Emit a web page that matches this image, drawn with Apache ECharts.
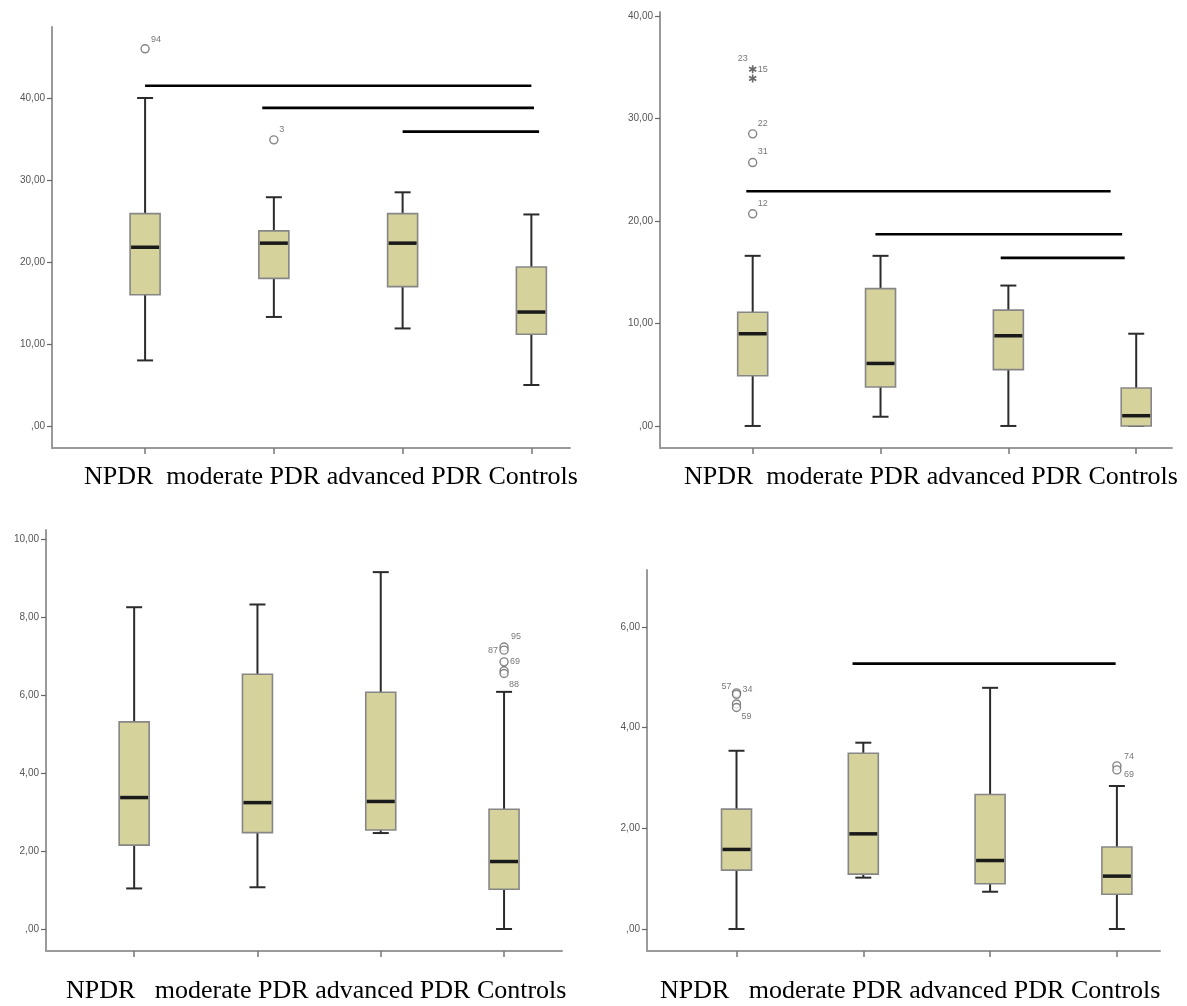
<!DOCTYPE html>
<html>
<head>
<meta charset="utf-8">
<script src="https://cdn.jsdelivr.net/npm/echarts@6/dist/echarts.min.js"></script>
<style>
  html, body { margin: 0; padding: 0; background: #ffffff; }
  #chart { width: 1187px; height: 1006px; }
</style>
</head>
<body>
<div id="chart"></div>
<script>
// ---------------- DATA ----------------
const categories = ['NPDR', 'moderate PDR', 'advanced PDR', 'Controls'];

// box stats per category: [lower whisker, Q1, median, Q3, upper whisker]
const panel1Boxes = [[8.0, 16.0, 21.8, 25.9, 40.0], [13.3, 18.0, 22.3, 23.8, 27.9], [11.9, 17.0, 22.3, 25.9, 28.5], [5.0, 11.2, 13.9, 19.4, 25.8]];
const panel2Boxes = [[0, 4.9, 9.0, 11.1, 16.6], [0.9, 3.8, 6.1, 13.4, 16.6], [0, 5.5, 8.8, 11.3, 13.7], [0, 0, 1.0, 3.7, 9.0]];
const panel3Boxes = [[1.04, 2.15, 3.37, 5.31, 8.25], [1.07, 2.47, 3.24, 6.53, 8.32], [2.46, 2.54, 3.27, 6.07, 9.15], [0, 1.02, 1.73, 3.07, 6.08]];
const panel4Boxes = [[0, 1.17, 1.58, 2.38, 3.54], [1.02, 1.09, 1.89, 3.49, 3.70], [0.74, 0.90, 1.36, 2.67, 4.79], [0, 0.69, 1.05, 1.63, 2.84]];

// outliers: [category index, value, case label]
const panel1Outliers = [[0, 46.0, '94'], [1, 34.9, '3']];
const panel2Outliers = [[0, 20.7, '12'], [0, 25.7, '31'], [0, 28.5, '22']];
const panel2Extremes = [[0, 34.8, '15'], [0, 33.9, '23']];
const panel3Outliers = [[3, 7.23, '95'], [3, 7.15, '87'], [3, 6.85, '69'], [3, 6.62, ''], [3, 6.55, '88']];
const panel4Outliers = [[0, 4.69, '34'], [0, 4.66, '57'], [0, 4.47, ''], [0, 4.40, '59'], [3, 3.24, '74'], [3, 3.16, '69']];

// significance bars: [from (category position), to (category position), value]
const panel1Brackets = [[0, 3.0, 41.5], [0.91, 3.02, 38.8], [2.0, 3.06, 35.9]];
const panel2Brackets = [[-0.05, 2.80, 22.9], [0.96, 2.89, 18.7], [1.94, 2.91, 16.4]];
const panel3Brackets = [];
const panel4Brackets = [[0.915, 2.99, 5.27]];

// y tick values
const panel1Ticks = [0, 10, 20, 30, 40];
const panel2Ticks = [0, 10, 20, 30, 40];
const panel3Ticks = [0, 2, 4, 6, 8, 10];
const panel4Ticks = [0, 2, 4, 6];

// ---------------- LAYOUT / STYLE ----------------
const panels = [
  { boxes: panel1Boxes, outliers: panel1Outliers, extremes: [], brackets: panel1Brackets, ticks: panel1Ticks,
    grid: { left: 52, top: 27, width: 518, height: 421 }, x: [-0.723, 3.30], y: [-2.68, 48.66],
    text: { x: 84, y: 479, gaps: ['  ', ' ', ' '] } },
  { boxes: panel2Boxes, outliers: panel2Outliers, extremes: panel2Extremes, brackets: panel2Brackets, ticks: panel2Ticks,
    grid: { left: 660, top: 12, width: 512, height: 436 }, x: [-0.725, 3.28], y: [-2.15, 40.39],
    text: { x: 684, y: 479, gaps: ['  ', ' ', ' '] } },
  { boxes: panel3Boxes, outliers: panel3Outliers, extremes: [], brackets: panel3Brackets, ticks: panel3Ticks,
    grid: { left: 46, top: 530, width: 516, height: 421 }, x: [-0.715, 3.47], y: [-0.564, 10.23],
    text: { x: 66, y: 993, gaps: ['   ', ' ', ' '] } },
  { boxes: panel4Boxes, outliers: panel4Outliers, extremes: [], brackets: panel4Brackets, ticks: panel4Ticks,
    grid: { left: 647, top: 570, width: 513, height: 381 }, x: [-0.706, 3.34], y: [-0.437, 7.13],
    text: { x: 660, y: 993, gaps: ['   ', ' ', ' '] } }
];

// label offsets (style) keyed by panel index and label
const labelOffsets = {
  '0-94': [11, -9], '0-3': [8, -10],
  '1-12': [10, -10], '1-31': [10, -11], '1-22': [10, -10], '1-15': [10, 0], '1-23': [-10, -20],
  '2-95': [12, -10], '2-87': [-11, 0], '2-69': [11, 0], '2-88': [10, 11],
  '3-34': [11, -3], '3-57': [-10, -8], '3-59': [10, 9], '3-74': [12, -9], '3-69': [12, 5]
};

const BOX_FILL = '#d6d29c';
const BOX_BORDER = '#868686';
const WHISKER = '#2b2b2b';
const AXIS = '#9a9a9a';
const SMALL_TEXT = '#555555';

function asteriskPath() {
  let d = '';
  [0, 60, 120].forEach(function (deg) {
    const a = deg * Math.PI / 180;
    const dx = Math.sin(a), dy = -Math.cos(a);
    const px = -dy * 0.2, py = dx * 0.2;
    const pts = [[dx + px, dy + py], [dx - px, dy - py], [-dx - px, -dy - py], [-dx + px, -dy + py]];
    d += 'M' + pts.map(function (p) { return p[0].toFixed(3) + ' ' + p[1].toFixed(3); }).join(' L') + ' Z ';
  });
  return 'path://' + d;
}

function fmtTick(v) {
  return v === 0 ? ',00' : v.toFixed(2).replace('.', ',');
}

function renderBox(params, api) {
  const x = api.value(0);
  const lo = api.coord([x, api.value(1)]);
  const q1 = api.coord([x, api.value(2)]);
  const md = api.coord([x, api.value(3)]);
  const q3 = api.coord([x, api.value(4)]);
  const hi = api.coord([x, api.value(5)]);
  const bw = 30, cw = 16, cx = lo[0];
  const wStyle = { stroke: WHISKER, lineWidth: 2 };
  return {
    type: 'group',
    children: [
      { type: 'line', shape: { x1: cx, y1: lo[1], x2: cx, y2: q1[1] }, style: wStyle },
      { type: 'line', shape: { x1: cx, y1: q3[1], x2: cx, y2: hi[1] }, style: wStyle },
      { type: 'line', shape: { x1: cx - cw / 2, y1: lo[1], x2: cx + cw / 2, y2: lo[1] }, style: wStyle },
      { type: 'line', shape: { x1: cx - cw / 2, y1: hi[1], x2: cx + cw / 2, y2: hi[1] }, style: wStyle },
      { type: 'rect', shape: { x: cx - bw / 2, y: q3[1], width: bw, height: Math.max(q1[1] - q3[1], 0.5) },
        style: { fill: BOX_FILL, stroke: BOX_BORDER, lineWidth: 1.6 } },
      { type: 'line', shape: { x1: cx - bw / 2 + 1, y1: md[1], x2: cx + bw / 2 - 1, y2: md[1] },
        style: { stroke: '#1a1a1a', lineWidth: 3.5 } }
    ]
  };
}

const grids = [], xAxes = [], yAxes = [], series = [], graphics = [];

panels.forEach(function (p, i) {
  grids.push(Object.assign({ containLabel: false }, p.grid));
  xAxes.push({
    type: 'value', gridIndex: i, min: p.x[0], max: p.x[1],
    axisLine: { show: true, onZero: false, lineStyle: { color: AXIS, width: 2 } },
    axisTick: { show: true, customValues: [0, 1, 2, 3], length: 6, lineStyle: { color: '#777', width: 1.5 } },
    axisLabel: { show: false }, splitLine: { show: false }
  });
  yAxes.push({
    type: 'value', gridIndex: i, min: p.y[0], max: p.y[1],
    axisLine: { show: true, onZero: false, lineStyle: { color: AXIS, width: 2 } },
    axisTick: { show: true, customValues: p.ticks, length: 5, lineStyle: { color: '#666', width: 1.2 } },
    axisLabel: { show: true, customValues: p.ticks, formatter: fmtTick, margin: 7,
      fontSize: 10, fontFamily: 'Liberation Sans', color: SMALL_TEXT },
    splitLine: { show: false }
  });

  series.push({
    type: 'custom', xAxisIndex: i, yAxisIndex: i, renderItem: renderBox,
    encode: { x: 0, y: [1, 2, 3, 4, 5] },
    data: p.boxes.map(function (b, k) { return [k].concat(b); }),
    silent: true, z: 2
  });

  function markerSeries(list, isCircle) {
    return {
      type: 'scatter', xAxisIndex: i, yAxisIndex: i, silent: true, z: 3,
      symbol: isCircle ? 'circle' : asteriskPath(), symbolSize: 8,
      itemStyle: isCircle ? { color: '#ffffff', borderColor: '#666666', borderWidth: 1.4 } : { color: '#444444' },
      data: list.map(function (o) {
        const off = labelOffsets[i + '-' + o[2]] || [10, -8];
        return {
          value: [o[0], o[1]],
          label: { show: o[2] !== '', formatter: o[2], position: 'inside', offset: off,
            fontSize: 9, fontFamily: 'Liberation Sans', color: SMALL_TEXT }
        };
      })
    };
  }
  if (p.outliers.length) series.push(markerSeries(p.outliers, true));
  if (p.extremes.length) series.push(markerSeries(p.extremes, false));

  p.brackets.forEach(function (b) {
    series.push({
      type: 'line', xAxisIndex: i, yAxisIndex: i, symbol: 'none', silent: true, z: 4,
      lineStyle: { color: '#000', width: 2.6 },
      data: [[b[0], b[2]], [b[1], b[2]]]
    });
  });

  let label = categories[0];
  for (let k = 1; k < categories.length; k++) label += p.text.gaps[k - 1] + categories[k];
  graphics.push({
    type: 'text', left: p.text.x, top: p.text.y - 15,
    style: { text: label, font: '26px "Liberation Serif"', fill: '#000', textAlign: 'left' }
  });
});

const chart = echarts.init(document.getElementById('chart'), null, { renderer: 'canvas' });
chart.setOption({
  animation: false,
  backgroundColor: '#ffffff',
  grid: grids,
  xAxis: xAxes,
  yAxis: yAxes,
  series: series,
  graphic: graphics
});
</script>
</body>
</html>
